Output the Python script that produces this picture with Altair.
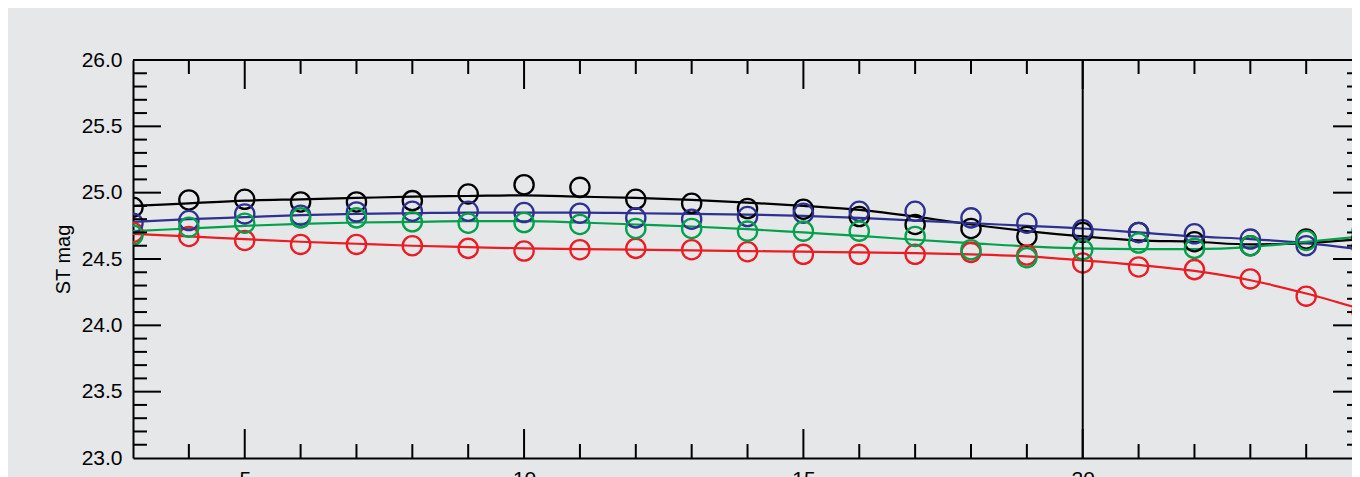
import altair as alt
import pandas as pd

# ---- data ----
x_vals = list(range(3, 26))
series_names = ["black", "blue", "green", "red"]
series_colors = ["#000000", "#2e3192", "#00a14b", "#ed1c24"]

black_pts = [24.89, 24.945, 24.95, 24.93, 24.93, 24.94, 24.99, 25.06, 25.04, 24.95, 24.92, 24.88,
             24.875, 24.82, 24.76, 24.73, 24.67, 24.70, 24.70, 24.63, 24.60, 24.65, 24.66]
blue_pts = [24.77, 24.79, 24.84, 24.83, 24.855, 24.86, 24.86, 24.85, 24.845, 24.81, 24.80, 24.82,
            24.845, 24.86, 24.86, 24.81, 24.77, 24.72, 24.70, 24.69, 24.65, 24.60, 24.59]
green_pts = [24.68, 24.74, 24.77, 24.81, 24.81, 24.78, 24.77, 24.775, 24.76, 24.73, 24.73, 24.71,
             24.71, 24.71, 24.67, 24.57, 24.51, 24.57, 24.62, 24.58, 24.60, 24.64, 24.71]
red_pts = [24.70, 24.67, 24.64, 24.61, 24.61, 24.60, 24.58, 24.56, 24.57, 24.58, 24.57, 24.555,
           24.535, 24.535, 24.535, 24.55, 24.53, 24.47, 24.44, 24.42, 24.35, 24.22, 24.10]

black_fit = [24.90, 24.92, 24.94, 24.95, 24.96, 24.97, 24.975, 24.98, 24.97, 24.96, 24.945, 24.925,
             24.90, 24.87, 24.82, 24.76, 24.71, 24.67, 24.64, 24.63, 24.61, 24.62, 24.65]
blue_fit = [24.78, 24.80, 24.815, 24.83, 24.84, 24.845, 24.85, 24.85, 24.85, 24.845, 24.84, 24.835,
            24.825, 24.81, 24.79, 24.77, 24.75, 24.73, 24.70, 24.67, 24.65, 24.62, 24.57]
green_fit = [24.71, 24.73, 24.75, 24.765, 24.775, 24.78, 24.785, 24.785, 24.775, 24.76, 24.745, 24.725,
             24.70, 24.675, 24.645, 24.62, 24.595, 24.58, 24.575, 24.575, 24.59, 24.63, 24.67]
red_fit = [24.69, 24.67, 24.65, 24.63, 24.615, 24.60, 24.59, 24.58, 24.575, 24.57, 24.565, 24.56,
           24.555, 24.55, 24.545, 24.535, 24.52, 24.49, 24.455, 24.41, 24.34, 24.24, 24.12]

vline_x = [20]

x_label_values = [5, 10, 15, 20, 25]
x_major_ticks = [5, 10, 15, 20]
x_minor_ticks = [4, 6, 7, 8, 9, 11, 12, 13, 14, 16, 17, 18, 19, 21, 22, 23, 24]
y_label_values = [23.0, 23.5, 24.0, 24.5, 25.0, 25.5, 26.0]
y_major_ticks = [23.5, 24.0, 24.5, 25.0, 25.5]
y_minor_ticks = [23.1, 23.2, 23.3, 23.4, 23.6, 23.7, 23.8, 23.9, 24.1, 24.2, 24.3, 24.4,
                 24.6, 24.7, 24.8, 24.9, 25.1, 25.2, 25.3, 25.4, 25.6, 25.7, 25.8, 25.9]

# ---- tables ----
pts_lists = [black_pts, blue_pts, green_pts, red_pts]
fit_lists = [black_fit, blue_fit, green_fit, red_fit]
draw_order = {"black": 0, "red": 1, "blue": 2, "green": 3}

rows = []
for name, pts, fit in zip(series_names, pts_lists, fit_lists):
    for x, p, f in zip(x_vals, pts, fit):
        rows.append({"x": x, "mag": p, "fit": f, "series": name, "order": draw_order[name]})
df = pd.DataFrame(rows)

W, H = 1219, 398
RIGHT_AXIS = W + 9   # the right frame of the original lies just past the visible edge
FONT = "Liberation Sans"
BG = "#e6e7e8"

xscale = alt.Scale(domain=[3, 24.82], nice=False, zero=False)
yscale = alt.Scale(domain=[23, 26], nice=False, zero=False)
cscale = alt.Scale(domain=series_names, range=series_colors)

base = alt.Chart(df)

lines = base.mark_line(strokeWidth=2.2, clip=True, interpolate="monotone").encode(
    x=alt.X("x:Q", scale=xscale, title=None,
            axis=alt.Axis(values=x_label_values, format="d", ticks=False, domain=True,
                          domainColor="black", domainWidth=2, grid=False,
                          labelPadding=10, labelFontSize=21, labelFont=FONT, labelColor="black",
                          labelFlush=False)),
    y=alt.Y("fit:Q", scale=yscale, title="ST mag",
            axis=alt.Axis(values=y_label_values, format=".1f", ticks=False, domain=True,
                          domainColor="black", domainWidth=2, grid=False,
                          labelPadding=11, labelFontSize=21, labelFont=FONT, labelColor="black",
                          titleFontSize=20, titleFont=FONT, titleFontWeight="normal", titleColor="black",
                          titlePadding=8, labelFlush=False)),
    color=alt.Color("series:N", scale=cscale, legend=None),
    detail="series:N",
)

points = base.mark_point(shape="circle", filled=False, size=370, strokeWidth=2.3, opacity=1, clip=True).encode(
    x=alt.X("x:Q", scale=xscale),
    y=alt.Y("mag:Q", scale=yscale),
    color=alt.Color("series:N", scale=cscale, legend=None),
    order=alt.Order("order:Q"),
)

vline = alt.Chart(pd.DataFrame({"x": vline_x})).mark_rule(color="black", strokeWidth=2).encode(
    x=alt.X("x:Q", scale=xscale)
)

top_frame = alt.Chart(pd.DataFrame({"v": [0]})).mark_rule(color="black", strokeWidth=2).encode(
    x=alt.value(0), x2=alt.value(W + 10), y=alt.value(0)
)

def yticks(vals, length, side):
    d = pd.DataFrame({"v": vals})
    if side == "left":
        xa, xb = 0, length
    else:
        xa, xb = RIGHT_AXIS, RIGHT_AXIS - length
    return alt.Chart(d).mark_rule(color="black", strokeWidth=2).encode(
        y=alt.Y("v:Q", scale=yscale), x=alt.value(xa), x2=alt.value(xb))

def xticks(vals, length, side):
    d = pd.DataFrame({"v": vals})
    if side == "top":
        ya, yb = 0, length
    else:
        ya, yb = H, H - length
    return alt.Chart(d).mark_rule(color="black", strokeWidth=2).encode(
        x=alt.X("v:Q", scale=xscale), y=alt.value(ya), y2=alt.value(yb))

tick_layers = [
    yticks(y_major_ticks, 28, "left"), yticks(y_minor_ticks, 14, "left"),
    yticks(y_major_ticks, 28, "right"), yticks(y_minor_ticks, 14, "right"),
    xticks(x_major_ticks, 29, "top"), xticks(x_minor_ticks, 14, "top"),
    xticks(x_major_ticks, 29, "bottom"), xticks(x_minor_ticks, 14, "bottom"),
]

chart = alt.layer(lines, points, vline, top_frame, *tick_layers).properties(
    width=W, height=H,
    title=alt.TitleParams("F606W", fontSize=28, font=FONT, fontWeight="normal", color="black",
                          anchor="middle", baseline="alphabetic", offset=17),
    autosize=alt.AutoSizeParams(type="none"),
    padding={"left": 125, "top": 52, "right": 0, "bottom": 19},
    background=BG,
).configure_view(
    strokeWidth=0, fill=BG
)

chart.save("out.html", embed_options={"renderer": "svg", "actions": False})
